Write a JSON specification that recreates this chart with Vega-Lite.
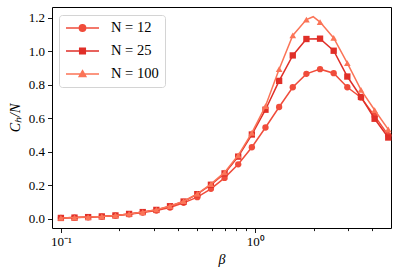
{
  "$schema": "https://vega.github.io/schema/vega-lite/v6.json",
  "width": 339,
  "height": 221,
  "autosize": {"type": "none"},
  "padding": {"left": 52, "top": 7, "right": 8, "bottom": 45},
  "background": "white",
  "config": {
    "view": {"stroke": "#000000", "strokeWidth": 1},
    "font": "Liberation Serif",
    "axis": {
      "domain": false,
      "grid": false,
      "tickColor": "#000000",
      "tickWidth": 0.9,
      "labelColor": "#000000",
      "labelFont": "Liberation Serif",
      "labelFontSize": 13,
      "titleFont": "Liberation Serif",
      "titleFontSize": 14,
      "titleFontWeight": "normal",
      "titleFontStyle": "italic",
      "titleColor": "#000000"
    }
  },
  "data": {
    "values": [
      {"s": "N = 12", "b": 0.1, "v": 0.006, "m": 1},
      {"s": "N = 12", "b": 0.1175, "v": 0.008, "m": 1},
      {"s": "N = 12", "b": 0.1381, "v": 0.010, "m": 1},
      {"s": "N = 12", "b": 0.1624, "v": 0.014, "m": 1},
      {"s": "N = 12", "b": 0.1909, "v": 0.020, "m": 1},
      {"s": "N = 12", "b": 0.2244, "v": 0.028, "m": 1},
      {"s": "N = 12", "b": 0.2638, "v": 0.038, "m": 1},
      {"s": "N = 12", "b": 0.31, "v": 0.050, "m": 1},
      {"s": "N = 12", "b": 0.3644, "v": 0.068, "m": 1},
      {"s": "N = 12", "b": 0.4283, "v": 0.096, "m": 1},
      {"s": "N = 12", "b": 0.5035, "v": 0.130, "m": 1},
      {"s": "N = 12", "b": 0.5918, "v": 0.180, "m": 1},
      {"s": "N = 12", "b": 0.6956, "v": 0.245, "m": 1},
      {"s": "N = 12", "b": 0.8177, "v": 0.326, "m": 1},
      {"s": "N = 12", "b": 0.9612, "v": 0.428, "m": 1},
      {"s": "N = 12", "b": 1.1298, "v": 0.546, "m": 1},
      {"s": "N = 12", "b": 1.328, "v": 0.668, "m": 1},
      {"s": "N = 12", "b": 1.561, "v": 0.786, "m": 1},
      {"s": "N = 12", "b": 1.8349, "v": 0.866, "m": 1},
      {"s": "N = 12", "b": 2.1569, "v": 0.894, "m": 1},
      {"s": "N = 12", "b": 2.5351, "v": 0.870, "m": 1},
      {"s": "N = 12", "b": 2.98, "v": 0.786, "m": 1},
      {"s": "N = 12", "b": 3.503, "v": 0.725, "m": 1},
      {"s": "N = 12", "b": 4.117, "v": 0.615, "m": 1},
      {"s": "N = 12", "b": 4.84, "v": 0.500, "m": 1},
      {"s": "N = 25", "b": 0.1, "v": 0.006, "m": 1},
      {"s": "N = 25", "b": 0.1175, "v": 0.008, "m": 1},
      {"s": "N = 25", "b": 0.1381, "v": 0.011, "m": 1},
      {"s": "N = 25", "b": 0.1624, "v": 0.015, "m": 1},
      {"s": "N = 25", "b": 0.1909, "v": 0.021, "m": 1},
      {"s": "N = 25", "b": 0.2244, "v": 0.030, "m": 1},
      {"s": "N = 25", "b": 0.2638, "v": 0.041, "m": 1},
      {"s": "N = 25", "b": 0.31, "v": 0.054, "m": 1},
      {"s": "N = 25", "b": 0.3644, "v": 0.076, "m": 1},
      {"s": "N = 25", "b": 0.4283, "v": 0.104, "m": 1},
      {"s": "N = 25", "b": 0.5035, "v": 0.148, "m": 1},
      {"s": "N = 25", "b": 0.5918, "v": 0.204, "m": 1},
      {"s": "N = 25", "b": 0.6956, "v": 0.272, "m": 1},
      {"s": "N = 25", "b": 0.8177, "v": 0.372, "m": 1},
      {"s": "N = 25", "b": 0.9612, "v": 0.504, "m": 1},
      {"s": "N = 25", "b": 1.1298, "v": 0.652, "m": 1},
      {"s": "N = 25", "b": 1.328, "v": 0.824, "m": 1},
      {"s": "N = 25", "b": 1.561, "v": 0.976, "m": 1},
      {"s": "N = 25", "b": 1.8349, "v": 1.074, "m": 1},
      {"s": "N = 25", "b": 2.1569, "v": 1.076, "m": 1},
      {"s": "N = 25", "b": 2.5351, "v": 1.004, "m": 1},
      {"s": "N = 25", "b": 2.98, "v": 0.850, "m": 1},
      {"s": "N = 25", "b": 3.503, "v": 0.728, "m": 1},
      {"s": "N = 25", "b": 4.117, "v": 0.598, "m": 1},
      {"s": "N = 25", "b": 4.84, "v": 0.486, "m": 1},
      {"s": "N = 100", "b": 0.1, "v": 0.006, "m": 1},
      {"s": "N = 100", "b": 0.1175, "v": 0.008, "m": 1},
      {"s": "N = 100", "b": 0.1381, "v": 0.011, "m": 1},
      {"s": "N = 100", "b": 0.1624, "v": 0.015, "m": 1},
      {"s": "N = 100", "b": 0.1909, "v": 0.021, "m": 1},
      {"s": "N = 100", "b": 0.2244, "v": 0.030, "m": 1},
      {"s": "N = 100", "b": 0.2638, "v": 0.041, "m": 1},
      {"s": "N = 100", "b": 0.31, "v": 0.055, "m": 1},
      {"s": "N = 100", "b": 0.3644, "v": 0.077, "m": 1},
      {"s": "N = 100", "b": 0.4283, "v": 0.106, "m": 1},
      {"s": "N = 100", "b": 0.5035, "v": 0.150, "m": 1},
      {"s": "N = 100", "b": 0.5918, "v": 0.208, "m": 1},
      {"s": "N = 100", "b": 0.6956, "v": 0.278, "m": 1},
      {"s": "N = 100", "b": 0.8177, "v": 0.380, "m": 1},
      {"s": "N = 100", "b": 0.9612, "v": 0.514, "m": 1},
      {"s": "N = 100", "b": 1.1298, "v": 0.674, "m": 1},
      {"s": "N = 100", "b": 1.328, "v": 0.894, "m": 1},
      {"s": "N = 100", "b": 1.561, "v": 1.095, "m": 1},
      {"s": "N = 100", "b": 1.8349, "v": 1.190, "m": 1},
      {"s": "N = 100", "b": 1.989, "v": 1.207, "m": 0},
      {"s": "N = 100", "b": 2.1569, "v": 1.175, "m": 1},
      {"s": "N = 100", "b": 2.5351, "v": 1.080, "m": 1},
      {"s": "N = 100", "b": 2.98, "v": 0.930, "m": 1},
      {"s": "N = 100", "b": 3.503, "v": 0.770, "m": 1},
      {"s": "N = 100", "b": 4.117, "v": 0.650, "m": 1},
      {"s": "N = 100", "b": 4.84, "v": 0.535, "m": 1}
    ]
  },
  "encoding": {
    "x": {
      "field": "b",
      "type": "quantitative",
      "scale": {"type": "log", "domain": [0.09, 5], "nice": false},
      "axis": {
        "title": "β",
        "values": [0.1, 0.2, 0.3, 0.4, 0.5, 0.6, 0.7, 0.8, 0.9, 1, 2, 3, 4],
        "labelExpr": "datum.value == 0.1 ? '10⁻¹' : (datum.value == 1 ? '10⁰' : '')",
        "tickSize": {"condition": {"test": "datum.value == 0.1 || datum.value == 1", "value": 4.5}, "value": 2.6},
        "labelPadding": 3,
        "titlePadding": 4,
        "labelFlush": false,
        "labelOverlap": false
      }
    },
    "y": {
      "field": "v",
      "type": "quantitative",
      "scale": {"domain": [-0.054, 1.265], "nice": false, "zero": false},
      "axis": {
        "title": "Cₕ/N",
        "values": [0, 0.2, 0.4, 0.6, 0.8, 1.0, 1.2],
        "format": ".1f",
        "tickSize": 4.5,
        "labelPadding": 3,
        "titlePadding": 6,
        "labelFlush": false
      }
    }
  },
  "layer": [
    {
      "transform": [{"filter": "datum.s == 'N = 12'"}],
      "mark": {"type": "line", "strokeWidth": 1.5, "color": "#f04c3b"}
    },
    {
      "transform": [{"filter": "datum.m == 1 && datum.s == 'N = 12'"}],
      "mark": {"type": "point", "filled": true, "opacity": 1, "size": 40, "shape": "circle", "color": "#f04c3b"}
    },
    {
      "transform": [{"filter": "datum.s == 'N = 25'"}],
      "mark": {"type": "line", "strokeWidth": 1.5, "color": "#e02f28"}
    },
    {
      "transform": [{"filter": "datum.m == 1 && datum.s == 'N = 25'"}],
      "mark": {"type": "point", "filled": true, "opacity": 1, "size": 40, "shape": "square", "color": "#e02f28"}
    },
    {
      "transform": [{"filter": "datum.s == 'N = 100'"}],
      "mark": {"type": "line", "strokeWidth": 1.5, "color": "#fb7457"}
    },
    {
      "transform": [{"filter": "datum.m == 1 && datum.s == 'N = 100'"}],
      "mark": {"type": "point", "filled": true, "opacity": 1, "size": 44, "shape": "triangle-up", "color": "#fb7457"}
    },
    {
      "mark": {"type": "point", "filled": true, "opacity": 0},
      "encoding": {
        "color": {
          "field": "s",
          "type": "nominal",
          "scale": {"domain": ["N = 12", "N = 25", "N = 100"], "range": ["#f04c3b", "#e02f28", "#fb7457"]},
          "legend": {
            "title": null,
            "orient": "none",
            "legendX": 7,
            "legendY": 8,
            "fillColor": "rgba(255,255,255,0.85)",
            "strokeColor": "#d4d4d4",
            "cornerRadius": 3,
            "padding": 6,
            "labelFont": "Liberation Serif",
            "labelFontSize": 14.5,
            "labelColor": "#000000",
            "labelExpr": "replace(datum.label, ' = ', ' = ')",
            "symbolSize": 1089,
            "symbolOffset": 0,
            "labelOffset": 11,
            "clipHeight": 14,
            "rowPadding": 8,
            "symbolOpacity": 1,
            "symbolStrokeWidth": 1.5,
            "encode": {
              "symbols": {
                "update": {
                  "stroke": {"scale": "color", "field": "value"},
                  "strokeWidth": {"value": 1.5}
                }
              }
            }
          }
        },
        "shape": {
          "field": "s",
          "type": "nominal",
          "scale": {
            "domain": ["N = 12", "N = 25", "N = 100"],
            "range": [
              "M-1,0H1M0.19,0A0.19,0.19,0,1,1,-0.19,0A0.19,0.19,0,1,1,0.19,0Z",
              "M-1,0H1M-0.17,-0.17H0.17V0.17H-0.17Z",
              "M-1,0H1M0,-0.2L0.2,0.15L-0.2,0.15Z"
            ]
          },
          "legend": {
            "title": null,
            "orient": "none",
            "legendX": 7,
            "legendY": 8,
            "fillColor": "rgba(255,255,255,0.85)",
            "strokeColor": "#d4d4d4",
            "cornerRadius": 3,
            "padding": 6,
            "labelFont": "Liberation Serif",
            "labelFontSize": 14.5,
            "labelColor": "#000000",
            "labelExpr": "replace(datum.label, ' = ', ' = ')",
            "symbolSize": 1089,
            "symbolOffset": 0,
            "labelOffset": 11,
            "clipHeight": 14,
            "rowPadding": 8,
            "symbolOpacity": 1,
            "symbolStrokeWidth": 1.5,
            "encode": {
              "symbols": {
                "update": {
                  "stroke": {"scale": "color", "field": "value"},
                  "strokeWidth": {"value": 1.5}
                }
              }
            }
          }
        }
      }
    }
  ]
}
